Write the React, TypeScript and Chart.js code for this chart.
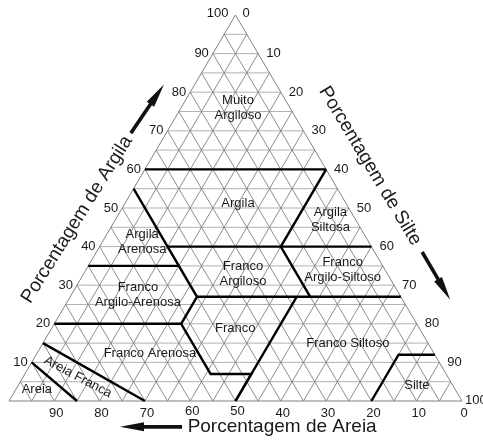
import React, { useEffect, useRef } from "react";
import { Chart, registerables } from "chart.js";

Chart.register(...registerables);

// ---- Data (ternary: [sand, silt, clay]) ----
const GRID_STEPS = [5, 10, 15, 20, 25, 30, 35, 40, 45, 50, 55, 60, 65, 70, 75, 80, 85, 90, 95];

const CLAY_TICKS = [10, 20, 30, 40, 50, 60, 70, 80, 90, 100];
const SILT_TICKS = [0, 10, 20, 30, 40, 50, 60, 70, 80, 90, 100];
const SAND_TICKS = [90, 80, 70, 60, 50, 40, 30, 20, 10, 0];

// class boundary polylines, each point [sand, silt, clay]
const B_CLAY60 = [[40, 0, 60], [0, 40, 60]];
const B_SILT40 = [[0, 40, 60], [20, 40, 40]];
const B_SAND45 = [[45, 0, 55], [45, 28, 27], [52, 28, 20], [52, 41, 7], [43, 50, 7], [50, 50, 0]];
const B_CLAY40 = [[45, 15, 40], [0, 60, 40]];
const B_CLAY35 = [[65, 0, 35], [45, 20, 35]];
const B_CLAY27 = [[45, 28, 27], [0, 73, 27]];
const B_CLAY20 = [[80, 0, 20], [52, 28, 20]];
const B_SAND20 = [[20, 40, 40], [20, 53, 27]];
const B_SILT50 = [[50, 50, 0], [23, 50, 27]];
const B_SILTE = [[20, 80, 0], [8, 80, 12], [0, 88, 12]];
const B_AREIA = [[85, 15, 0], [90, 0, 10]];
const B_AREIA_FRANCA = [[70, 30, 0], [85, 0, 15]];
const BOUNDARIES = [B_CLAY60, B_SILT40, B_SAND45, B_CLAY40, B_CLAY35, B_CLAY27, B_CLAY20, B_SAND20, B_SILT50, B_SILTE, B_AREIA, B_AREIA_FRANCA];

// class names and their ternary centres [sand, silt, clay]
const CLASS_NAMES = [
  "Muito\nArgiloso", "Argila", "Argila\nSiltosa", "Argila\nArenosa", "Franco\nArgiloso",
  "Franco\nArgilo-Siltoso", "Franco\nArgilo-Arenosa", "Franco", "Franco Siltoso",
  "Franco Arenosa", "Areia", "Silte",
];
const CLASS_POS = [
  [11.5, 12.6, 75.9], [23.8, 24.9, 51.3], [5.6, 47.5, 46.9], [50, 8.8, 41.2], [31.9, 35.2, 32.9],
  [9.4, 56.7, 33.9], [57.8, 14.7, 27.5], [40.6, 40.5, 18.9], [17.7, 67.3, 15],
  [62.7, 24.9, 12.4], [92.3, 4.6, 3.1], [7.9, 88, 4.1],
];
const AREIA_FRANCA_POS = [81.7, 12.1, 6.2];

const toXY = (p: number[]) => ({ x: 100 - p[0] - p[2] / 2, y: p[2] });

const FONT = "'Liberation Sans', Arial, Helvetica, sans-serif";

function gridSegments() {
  const segs: { x: number; y: number }[][] = [];
  const horiz: { x: number; y: number }[][] = [];
  for (const v of GRID_STEPS) {
    horiz.push([{ x: v / 2, y: v }, { x: 100 - v / 2, y: v }]);
    segs.push([{ x: 100 - v, y: 0 }, { x: (100 - v) / 2, y: 100 - v }]);
    segs.push([{ x: v, y: 0 }, { x: v + (100 - v) / 2, y: 100 - v }]);
  }
  return { segs, horiz };
}

function drawArrow(ctx: CanvasRenderingContext2D, x0: number, y0: number, x1: number, y1: number) {
  const dx = x1 - x0, dy = y1 - y0;
  const len = Math.hypot(dx, dy);
  const ux = dx / len, uy = dy / len;
  const nx = -uy, ny = ux;
  const headLen = 24, headW = 4.5, shaftW = 1.8;
  const hx = x1 - ux * headLen, hy = y1 - uy * headLen;
  ctx.beginPath();
  ctx.moveTo(x0 + nx * shaftW, y0 + ny * shaftW);
  ctx.lineTo(hx + nx * shaftW, hy + ny * shaftW);
  ctx.lineTo(hx + nx * headW, hy + ny * headW);
  ctx.lineTo(x1, y1);
  ctx.lineTo(hx - nx * headW, hy - ny * headW);
  ctx.lineTo(hx - nx * shaftW, hy - ny * shaftW);
  ctx.lineTo(x0 - nx * shaftW, y0 - ny * shaftW);
  ctx.closePath();
  ctx.fillStyle = "#111";
  ctx.fill();
}

const textPlugin = {
  id: "ternaryText",
  afterDatasetsDraw(chart: any) {
    const ctx: CanvasRenderingContext2D = chart.ctx;
    const xs = chart.scales.x, ys = chart.scales.y;
    const px = (x: number) => xs.getPixelForValue(x);
    const py = (y: number) => ys.getPixelForValue(y);
    ctx.save();
    ctx.fillStyle = "#1a1a1a";
    ctx.font = `13px ${FONT}`;
    ctx.textBaseline = "middle";

    // clay ticks (left edge)
    for (const c of CLAY_TICKS) {
      const x = px(c / 2), y = py(c);
      ctx.textAlign = "right";
      if (c === 100) ctx.fillText(String(c), x - 7, y - 2);
      else ctx.fillText(String(c), x - 4, y);
    }
    // silt ticks (right edge)
    for (const s of SILT_TICKS) {
      const c = 100 - s;
      const x = px(100 - c / 2), y = py(c);
      ctx.textAlign = "left";
      if (s === 0) ctx.fillText(String(s), x + 7, y - 2);
      else if (s === 100) ctx.fillText(String(s), x + 3, y - 1);
      else ctx.fillText(String(s), x + 8, y);
    }
    // sand ticks (base)
    for (const s of SAND_TICKS) {
      const x = px(100 - s), y = py(0);
      ctx.textAlign = "center";
      ctx.fillText(String(s), x + 2, y + (s === 60 || s === 50 ? 10 : 12));
    }

    // class labels
    ctx.font = `13px ${FONT}`;
    ctx.textAlign = "center";
    CLASS_NAMES.forEach((name, i) => {
      const p = toXY(CLASS_POS[i]);
      const lines = name.split("\n");
      const x = px(p.x), y = py(p.y);
      const lh = 15;
      lines.forEach((ln, j) => {
        ctx.fillText(ln, x, y + (j - (lines.length - 1) / 2) * lh);
      });
    });
    // rotated "Areia Franca"
    {
      const p = toXY(AREIA_FRANCA_POS);
      ctx.save();
      ctx.translate(px(p.x), py(p.y));
      ctx.rotate((28 * Math.PI) / 180);
      ctx.fillText("Areia Franca", 0, 0);
      ctx.restore();
    }

    // axis titles
    ctx.font = `19px ${FONT}`;
    ctx.textAlign = "center";
    ctx.fillText("Porcentagem de Areia", px(60.3), py(-6.7));
    ctx.save();
    ctx.translate(px(15.0), py(47.0));
    ctx.rotate((-58 * Math.PI) / 180);
    ctx.fillText("Porcentagem de Argila", 0, 0);
    ctx.restore();
    ctx.save();
    ctx.translate(px(79.7), py(60.9));
    ctx.rotate((59 * Math.PI) / 180);
    ctx.fillText("Porcentagem de Silte", 0, 0);
    ctx.restore();

    // arrows
    drawArrow(ctx, px(38.2), py(-6.7), px(24.5), py(-6.7));
    drawArrow(ctx, px(26.9), py(69.4), px(34.2), py(82.0));
    drawArrow(ctx, px(91.2), py(38.6), px(97.4), py(26.2));
    ctx.restore();
  },
};

export default function App() {
  const ref = useRef<HTMLCanvasElement | null>(null);
  useEffect(() => {
    document.body.style.margin = "0";
    if (!ref.current) return;
    const { segs, horiz } = gridSegments();
    const datasets: any[] = [];
    horiz.forEach((s) =>
      datasets.push({ data: s, order: 3, showLine: true, borderColor: "#a8a8a8", backgroundColor: "#a8a8a8", borderWidth: 0.9, pointRadius: 0, clip: false })
    );
    segs.forEach((s) =>
      datasets.push({ data: s, order: 2, showLine: true, borderColor: "#808080", backgroundColor: "#808080", borderWidth: 0.9, pointRadius: 0, clip: false })
    );
    datasets.push({
      data: [{ x: 0, y: 0 }, { x: 50, y: 100 }, { x: 100, y: 0 }, { x: 0, y: 0 }],
      order: 1, showLine: true, borderColor: "#808080", backgroundColor: "#808080", borderWidth: 1, pointRadius: 0, clip: false,
    });
    BOUNDARIES.forEach((b) =>
      datasets.push({
        data: b.map(toXY), order: 0, showLine: true, borderColor: "#000", backgroundColor: "#000", borderWidth: 2.4,
        pointRadius: 0, pointHoverRadius: 0, clip: false, fill: false, tension: 0,
      })
    );
    const chart = new Chart(ref.current, {
      type: "scatter",
      data: { datasets },
      options: {
        responsive: false,
        animation: false,
        events: [],
        layout: { padding: { left: 9, right: 21, top: 15, bottom: 39 } },
        plugins: { legend: { display: false }, tooltip: { enabled: false } },
        scales: {
          x: { type: "linear", min: 0, max: 100, display: false },
          y: { type: "linear", min: 0, max: 100, display: false },
        },
      },
      plugins: [textPlugin],
    });
    return () => chart.destroy();
  }, []);
  return <canvas ref={ref} width={483} height={440} style={{ display: "block" }} />;
}
